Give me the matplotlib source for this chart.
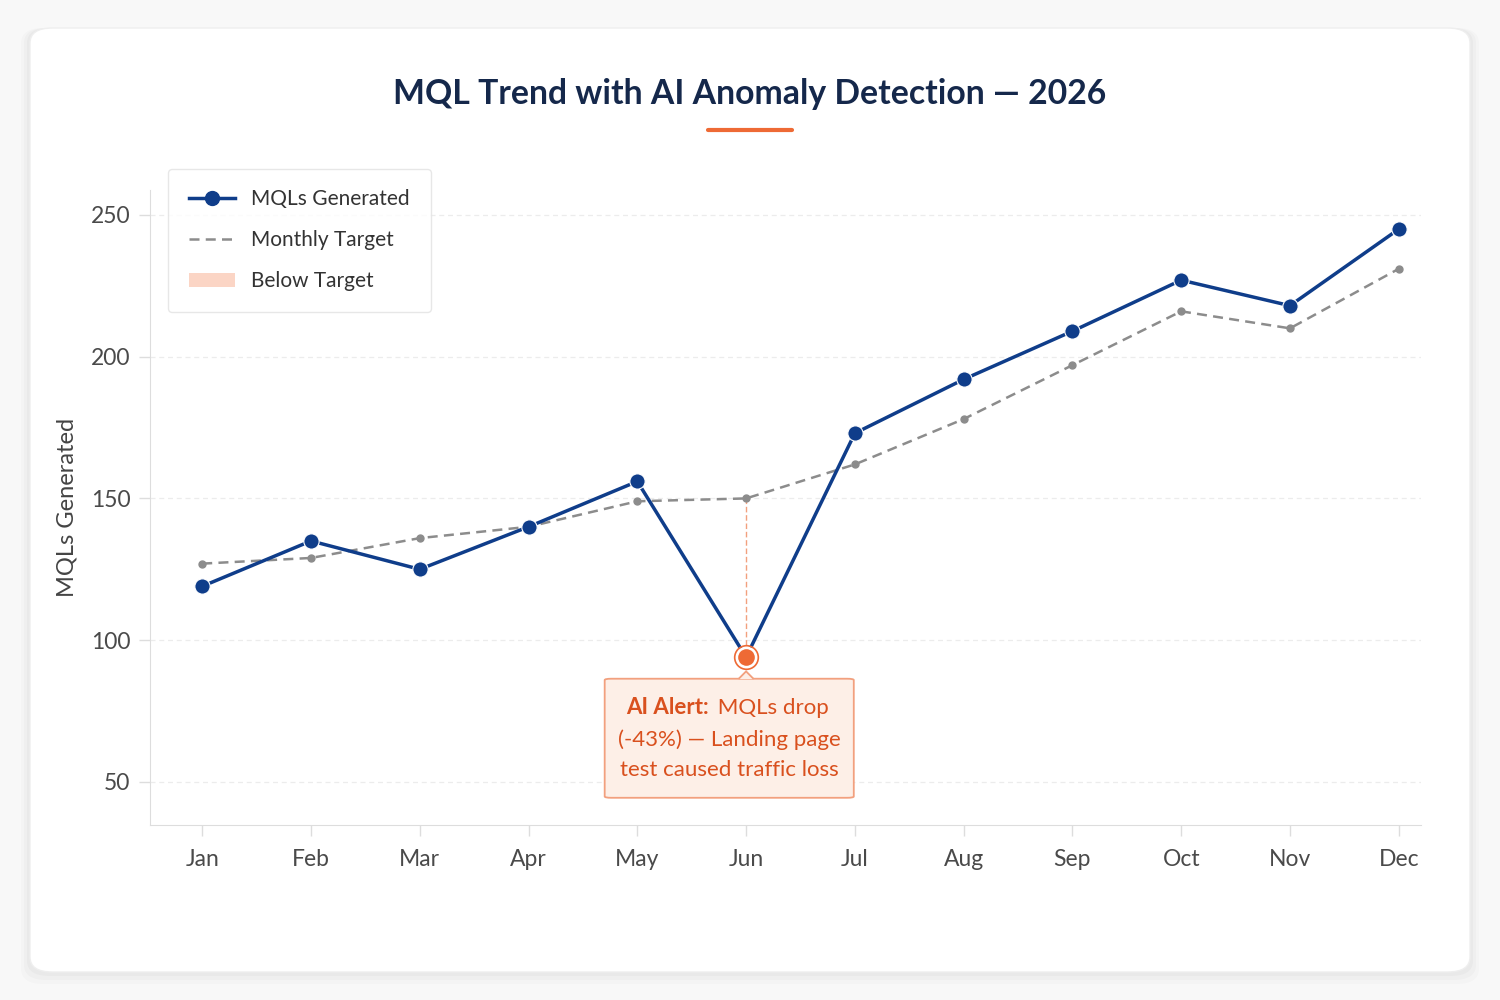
import matplotlib.pyplot as plt
import numpy as np
from matplotlib.patches import FancyBboxPatch, Patch, Polygon
from matplotlib.lines import Line2D

plt.rcParams['font.family'] = ['Lato', 'DejaVu Sans']

months = ['Jan', 'Feb', 'Mar', 'Apr', 'May', 'Jun', 'Jul', 'Aug', 'Sep', 'Oct', 'Nov', 'Dec']
mqls = [119, 135, 125, 140, 156, 94, 173, 192, 209, 227, 218, 245]
target = [127, 129, 136, 140, 149, 150, 162, 178, 197, 216, 210, 231]
yticks = [50, 100, 150, 200, 250]
anomaly_idx = 5
alert_lines = ["MQLs drop", "(-43%) — Landing page", "test caused traffic loss"]

navy = '#0f3d8a'
orange = '#ee6a35'
alert_text = '#d9501e'

fig = plt.figure(figsize=(15, 10), dpi=100)
fig.patch.set_facecolor('#f8f8f8')

# card with soft shadow
for i, a in enumerate([0.025, 0.02, 0.015]):
    pad = 0.004 * (i + 1)
    fig.patches.append(FancyBboxPatch((0.02 - pad / 2, 0.028 - pad), 0.96 + pad, 0.944 + pad,
                                      boxstyle="round,pad=0,rounding_size=0.015",
                                      transform=fig.transFigure, facecolor='black',
                                      edgecolor='none', alpha=a, zorder=0))
fig.patches.append(FancyBboxPatch((0.02, 0.028), 0.96, 0.944,
                                  boxstyle="round,pad=0,rounding_size=0.015",
                                  transform=fig.transFigure, facecolor='white',
                                  edgecolor='#eeeeee', linewidth=1, zorder=1))

fig.text(0.5, 0.906, "MQL Trend with AI Anomaly Detection — 2026", ha='center', va='center',
         fontsize=24.3, fontweight='bold', color='#15284b', zorder=3)
fig.add_artist(Line2D([0.472, 0.528], [0.870, 0.870], transform=fig.transFigure,
                      color=orange, linewidth=3, solid_capstyle='round', zorder=3))

ax = fig.add_axes([0.1, 0.175, 0.847, 0.635])
ax.set_facecolor('none')
ax.set_zorder(2)
x = np.arange(len(months))

ax.plot(x, target, color='#8c8c8c', linestyle=(0, (4, 2.5)), linewidth=1.8,
        marker='o', markersize=5, zorder=3)
ax.plot(x, mqls, color=navy, linewidth=2.5, marker='o', markersize=11,
        markeredgecolor='white', markeredgewidth=0.8, zorder=4)

# anomaly marker and connector
ax.plot([x[anomaly_idx], x[anomaly_idx]], [target[anomaly_idx], mqls[anomaly_idx]],
        color='#f2a07e', linewidth=1, linestyle=(0, (4, 2)), zorder=2)
ax.plot(x[anomaly_idx], mqls[anomaly_idx], marker='o', markersize=14, markerfacecolor=orange,
        markeredgecolor='white', markeredgewidth=2, zorder=5)
ax.plot(x[anomaly_idx], mqls[anomaly_idx], marker='o', markersize=17, markerfacecolor='none',
        markeredgecolor=orange, markeredgewidth=1.2, zorder=5)

# alert box
box_x0, box_x1, box_y0, box_y1 = x[anomaly_idx] - 1.30, x[anomaly_idx] + 0.99, 44.4, 86.4
box = FancyBboxPatch((box_x0, box_y0), box_x1 - box_x0, box_y1 - box_y0,
                     boxstyle="round,pad=0,rounding_size=0.06", mutation_aspect=8,
                     facecolor='#fdefe7', edgecolor='#f2a07e', linewidth=1.3, zorder=4)
ax.add_patch(box)
notch = Polygon([[x[anomaly_idx] - 0.07, box_y1 - 0.1], [x[anomaly_idx], box_y1 + 2.6],
                 [x[anomaly_idx] + 0.07, box_y1 - 0.1]], closed=False,
                facecolor='#fdefe7', edgecolor='#f2a07e', linewidth=1.3, zorder=4)
ax.add_patch(notch)
cx = x[anomaly_idx] - 0.15
fig.canvas.draw()
r = fig.canvas.get_renderer()
t_bold = ax.text(0, 0, "AI Alert:", fontsize=16, fontweight='bold', color=alert_text,
                 ha='left', va='center', zorder=6)
t_reg = ax.text(0, 0, " " + alert_lines[0], fontsize=16, color=alert_text,
                ha='left', va='center', zorder=6)
wb = t_bold.get_window_extent(r).width
wr = t_reg.get_window_extent(r).width
inv = ax.transData.inverted()
x0_pix = ax.transData.transform((cx, 0))[0] - (wb + wr) / 2
xb = inv.transform((x0_pix, 0))[0]
xr = inv.transform((x0_pix + wb, 0))[0]
t_bold.set_position((xb, 76.2))
t_reg.set_position((xr, 76.2))
ax.text(cx, 65.0, alert_lines[1], fontsize=16, color=alert_text, ha='center', va='center', zorder=6)
ax.text(cx, 54.2, alert_lines[2], fontsize=16, color=alert_text, ha='center', va='center', zorder=6)

ax.set_xlim(-0.48, 11.2)
ax.set_ylim(34.8, 258.8)
ax.set_xticks(x)
ax.set_xticklabels(months)
ax.set_yticks(yticks)
ax.tick_params(axis='both', colors='#dddddd', labelcolor='#4a4a4a', labelsize=16.5, length=8, width=1)
ax.tick_params(axis='x', pad=9)
ax.tick_params(axis='y', pad=6)
ax.set_ylabel("MQLs Generated", fontsize=17, color='#444444', labelpad=10)
ax.grid(axis='y', color='#ececec', linestyle=(0, (4, 3)), linewidth=0.9)
for s in ['top', 'right']:
    ax.spines[s].set_visible(False)
for s in ['left', 'bottom']:
    ax.spines[s].set_color('#dddddd')

handles = [Line2D([], [], color=navy, linewidth=2.5, marker='o', markersize=10),
           Line2D([], [], color='#8c8c8c', linestyle=(0, (4, 2.5)), linewidth=1.8),
           Patch(facecolor='#fbd5c5', edgecolor='none')]
leg = ax.legend(handles, ['MQLs Generated', 'Monthly Target', 'Below Target'],
                loc='upper left', bbox_to_anchor=(0.006, 1.05), fontsize=15, frameon=True,
                labelspacing=1.0, handlelength=2.2, handletextpad=0.8, borderpad=1.0,
                fancybox=True, edgecolor='#e2e2e2', labelcolor='#333333')
leg.get_frame().set_linewidth(1)

plt.savefig('out.png', dpi=100, facecolor=fig.get_facecolor())
